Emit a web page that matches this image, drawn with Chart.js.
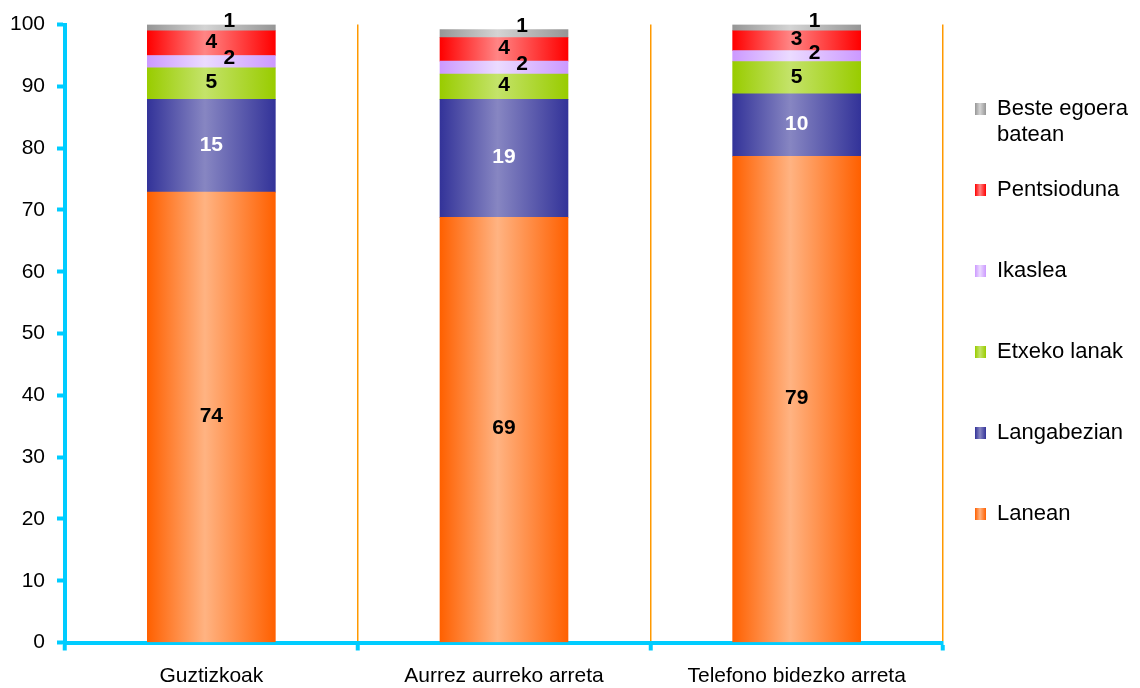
<!DOCTYPE html>
<html>
<head>
<meta charset="utf-8">
<script src="https://cdn.jsdelivr.net/npm/chart.js@4.4.1/dist/chart.umd.min.js"></script>
<style>
html, body { margin: 0; padding: 0; background: #fff; }
#wrap { position: relative; width: 1140px; height: 688px; }
#legend { position: absolute; left: 975px; top: 0; font-family: "Liberation Sans", Arial, sans-serif; font-size: 22px; color: #000; }
.box { position: absolute; left: 0; width: 11px; height: 12px; }
.txt { position: absolute; left: 22px; width: 150px; line-height: 25.5px; }
</style>
</head>
<body>
<div id="wrap">
  <canvas id="chart" width="1140" height="688"></canvas>
  <div id="legend"></div>
</div>
<script>
"use strict";

let FONT = "'Liberation Sans', Arial, sans-serif";

let CATEGORIES = ["Guztizkoak", "Aurrez aurreko arreta", "Telefono bidezko arreta"];
let SERIES = ["Lanean", "Langabezian", "Etxeko lanak", "Ikaslea", "Pentsioduna", "Beste egoera batean"];

// segment heights
let LANEAN = [72.9, 68.8, 78.7];
let LANGABEZIAN = [15.0, 19.1, 10.1];
let ETXEKO = [5.1, 4.1, 5.2];
let IKASLEA = [2.0, 2.1, 1.8];
let PENTSIODUNA = [4.0, 3.8, 3.2];
let BESTE = [1.0, 1.3, 1.0];

// numbers printed on the segments
let LANEAN_TXT = [74, 69, 79];
let LANGABEZIAN_TXT = [15, 19, 10];
let ETXEKO_TXT = [5, 4, 5];
let IKASLEA_TXT = [2, 2, 2];
let PENTSIODUNA_TXT = [4, 4, 3];
let BESTE_TXT = [1, 1, 1];

// [edge, middle] of each bar shading
let COLORS = [
    ["#FF6000", "#FFB382"],
    ["#333399", "#8786C2"],
    ["#99CC00", "#C4E36A"],
    ["#CC99FF", "#EBDBFF"],
    ["#FF0000", "#FF8585"],
    ["#969696", "#D4D4D4"]
];

let VALUES = [LANEAN, LANGABEZIAN, ETXEKO, IKASLEA, PENTSIODUNA, BESTE];
let TEXTS = [LANEAN_TXT, LANGABEZIAN_TXT, ETXEKO_TXT, IKASLEA_TXT, PENTSIODUNA_TXT, BESTE_TXT];

let CYAN = "#00CCFF";
let ORANGE = "#FF9900";
let BAR = 128;

function barFill(edge, mid) {
    return function(context) {
        let chart = context.chart;
        let xs = chart.scales.x;
        if (!chart.chartArea || !xs || context.dataIndex === undefined) {
            return edge;
        }
        let cx = xs.getPixelForValue(context.dataIndex);
        let g = chart.ctx.createLinearGradient(cx - BAR / 2, 0, cx + BAR / 2, 0);
        g.addColorStop(0, edge);
        g.addColorStop(0.45, mid);
        g.addColorStop(1, edge);
        return g;
    };
}

let barLabels = {
    id: "barLabels",
    afterDatasetsDraw: function(chart) {
        let ctx = chart.ctx;
        ctx.save();
        ctx.font = "bold 21px " + FONT;
        ctx.textAlign = "center";
        ctx.textBaseline = "middle";
        chart.data.datasets.forEach(function(ds, di) {
            let meta = chart.getDatasetMeta(di);
            meta.data.forEach(function(bar, i) {
                let x = bar.x;
                let y = (bar.y + bar.base) / 2 - 1;
                if (di === 3) {
                    x += 18;
                    y -= 2;
                } else if (di === 5) {
                    x += 18;
                    y = bar.y - 3;
                }
                ctx.fillStyle = di === 1 ? "#fff" : "#000";
                ctx.fillText(String(TEXTS[di][i]), x, y);
            });
        });
        ctx.restore();
    }
};

let datasets = SERIES.map(function(name, i) {
    return {
        label: name,
        data: VALUES[i].slice(),
        backgroundColor: barFill(COLORS[i][0], COLORS[i][1]),
        borderWidth: 0,
        barThickness: BAR
    };
});

new Chart(document.getElementById("chart"), {
    type: "bar",
    data: {
        labels: CATEGORIES,
        datasets: datasets
    },
    options: {
        responsive: false,
        animation: false,
        events: [],
        layout: {
            padding: { left: 0, right: 197, top: 22, bottom: 0 }
        },
        plugins: {
            legend: { display: false },
            tooltip: { enabled: false }
        },
        scales: {
            x: {
                stacked: true,
                ticks: {
                    color: "#000",
                    font: { family: FONT, size: 21 },
                    padding: 13
                },
                grid: {
                    offset: true,
                    color: function(c) { return c.index === 0 ? "rgba(0,0,0,0)" : ORANGE; },
                    lineWidth: 1.5,
                    tickColor: CYAN,
                    tickWidth: 4,
                    tickLength: 8
                },
                border: { color: CYAN, width: 4 },
                afterFit: function(scale) { scale.height = 45.5; }
            },
            y: {
                stacked: true,
                min: 0,
                max: 100,
                ticks: {
                    stepSize: 10,
                    color: "#000",
                    font: { family: FONT, size: 21 },
                    padding: 12
                },
                grid: {
                    drawOnChartArea: false,
                    tickColor: CYAN,
                    tickWidth: 4,
                    tickLength: 8
                },
                border: { color: CYAN, width: 4 },
                afterFit: function(scale) { scale.width = 65; }
            }
        }
    },
    plugins: [barLabels]
});

// legend, top item is the last series
let legend = document.getElementById("legend");
SERIES.slice().reverse().forEach(function(name, k) {
    let ci = SERIES.length - 1 - k;
    let mid = 108 + k * 81;
    let box = document.createElement("div");
    box.className = "box";
    box.style.top = (mid - 5) + "px";
    box.style.background = "linear-gradient(to right, " + COLORS[ci][0] + " 0%, " + COLORS[ci][1] + " 45%, " + COLORS[ci][0] + " 100%)";
    let txt = document.createElement("div");
    txt.className = "txt";
    txt.style.top = (mid - 12.75) + "px";
    txt.textContent = name;
    legend.appendChild(box);
    legend.appendChild(txt);
});
</script>
</body>
</html>
